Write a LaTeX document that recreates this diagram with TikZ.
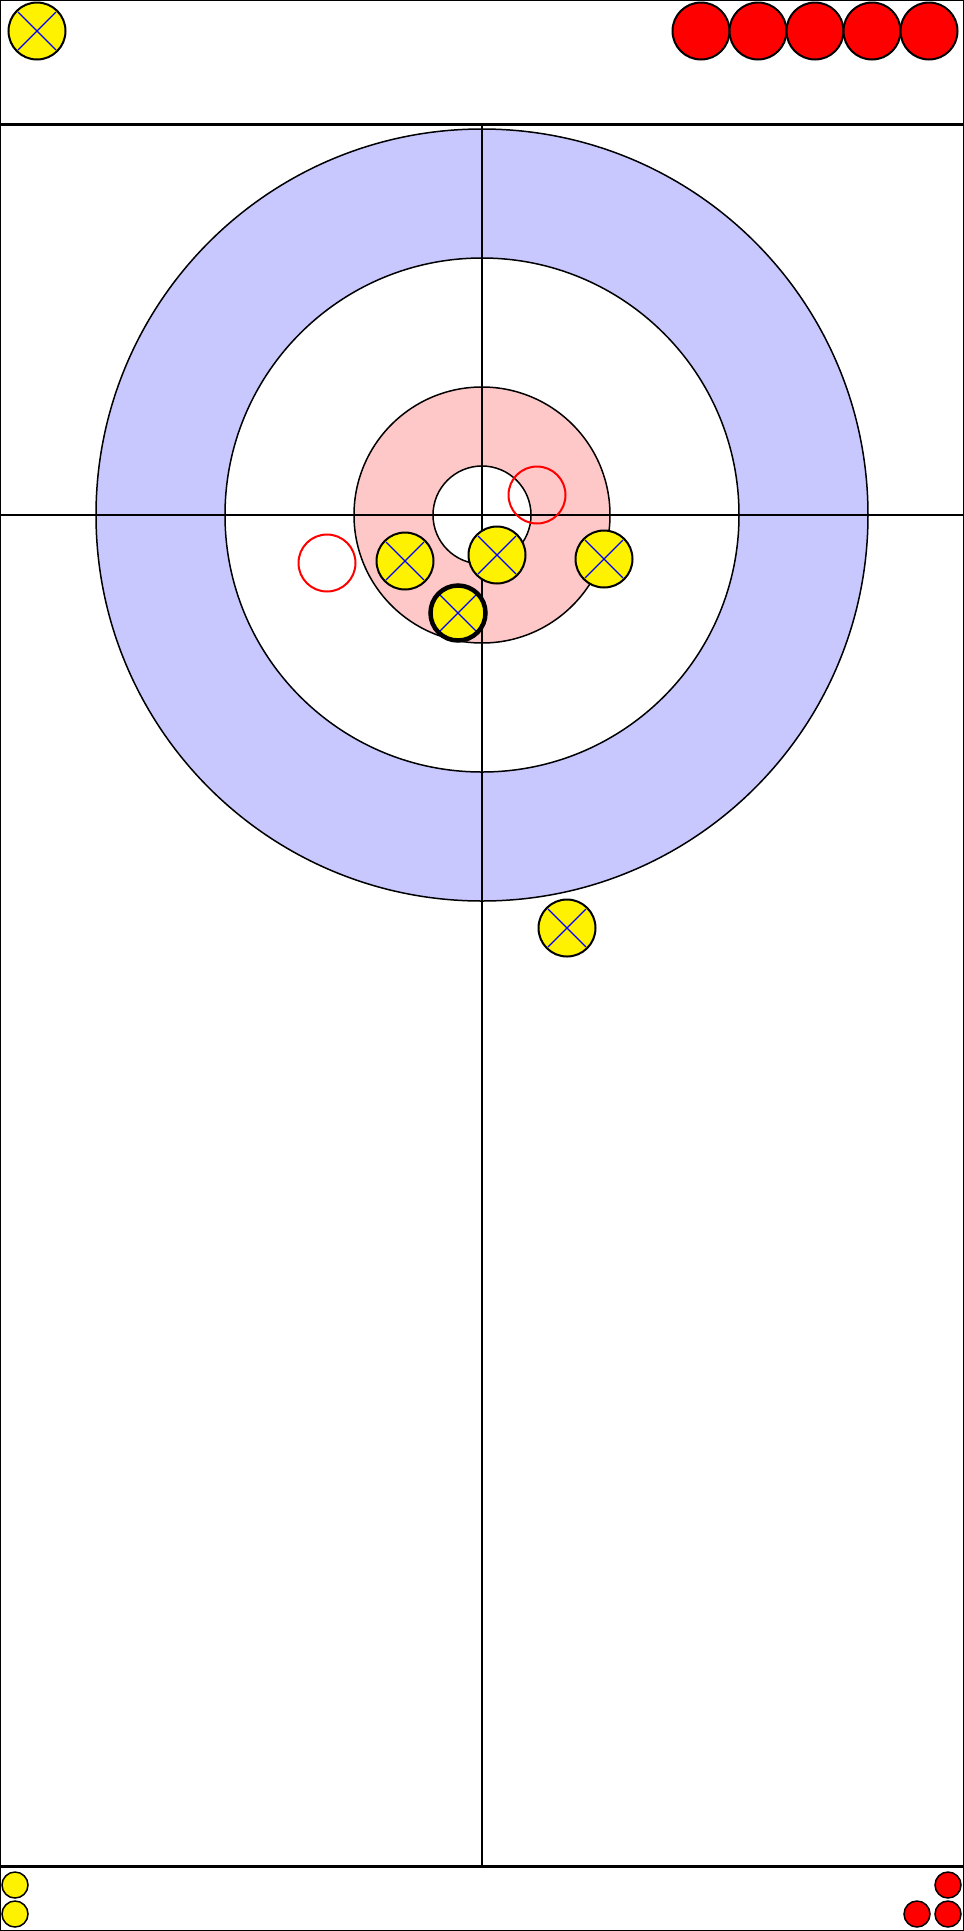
\documentclass[tikz,border=0pt]{standalone}
\usepackage{tikz}
\definecolor{ringblue}{RGB}{200,200,255}
\definecolor{ringred}{RGB}{255,200,200}

\begin{document}
\begin{tikzpicture}[x=1pt, y=-1pt,
        ring/.style={draw=black, line width=1.5pt},
        stone/.style={circle, draw=black, line width=2pt, inner sep=0pt, minimum size=57pt},
        cross/.style={path picture={
            \draw[blue, line width=1.3pt]
                ([shift={(-19,-19)}]path picture bounding box.center) -- ([shift={(19,19)}]path picture bounding box.center)
                ([shift={(-19,19)}]path picture bounding box.center) -- ([shift={(19,-19)}]path picture bounding box.center);}},
        yellowstone/.style={stone, fill=yellow, cross},
        redstone/.style={stone, fill=red},
        ghost/.style={stone, draw=red, fill=none},
        spare/.style={circle, draw=black, line width=1.5pt, inner sep=0pt, minimum size=26pt}
    ]
        \useasboundingbox (0,0) rectangle (964,1931);

        % House
        \coordinate (tee) at (482,515);
        \filldraw[ring, fill=ringblue] (tee) circle (386);
        \filldraw[ring, fill=white] (tee) circle (257);
        \filldraw[ring, fill=ringred] (tee) circle (128);
        \filldraw[ring, fill=white] (tee) circle (49);

        % Lines
        \coordinate (backleft) at (0,124);
        \coordinate (backright) at (964,124);
        \coordinate (hogleft) at (0,1866);
        \coordinate (hogright) at (964,1866);
        \draw[line width=2pt] (0,515) -- (964,515);
        \draw[line width=2pt] (482,124) -- (482,1866);
        \draw[line width=3pt] (backleft) -- (backright);
        \draw[line width=3pt] (hogleft) -- (hogright);
        \draw[line width=2pt] (0,0) rectangle (964,1931);

        % Stones in play
        \node[ghost] (r1) at (537,495) {};
        \node[ghost] (r2) at (327,563) {};
        \node[yellowstone] (y1) at (405,561) {};
        \node[yellowstone] (y2) at (497,555) {};
        \node[yellowstone] (y3) at (604,559) {};
        \node[yellowstone, line width=4.5pt, minimum size=55pt] (y4) at (458,613) {};
        \node[yellowstone] (y5) at (567,928) {};

        % Stones not yet thrown
        \node[yellowstone] (ytop) at (37,31) {};
        \foreach \i in {0,...,4}
            \node[redstone] (rtop\i) at (701+57*\i,31) {};

        % Stones out of play
        \node[spare, fill=yellow] (yout1) at (15,1885) {};
        \node[spare, fill=yellow] (yout2) at (15,1914) {};
        \node[spare, fill=red] (rout1) at (948,1885) {};
        \node[spare, fill=red] (rout2) at (948,1914) {};
        \node[spare, fill=red] (rout3) at (917,1914) {};
    \end{tikzpicture}
\end{document}
